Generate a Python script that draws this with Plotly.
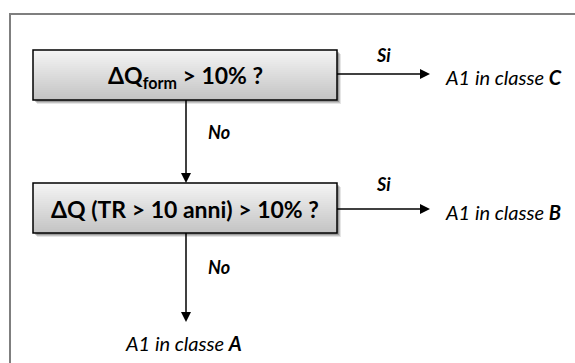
import plotly.graph_objects as go

# ---- diagram content ----
questions = ["ΔQ<sub>form</sub> > 10% ?", "ΔQ (TR > 10 anni) > 10% ?"]
yes_label = "Si"
no_label = "No"
outcomes_yes = ["A1 in classe <b>C</b>", "A1 in classe <b>B</b>"]
outcome_no = "A1 in classe <b>A</b>"

# ---- layout geometry (pixels) ----
W, H = 575, 363
box_x0, box_x1 = 33, 337
box_tops = [50, 183]
box_h = 50
arrow_ys = [74, 209]
si_ys = [55, 184]
no_ys = [132, 267]
cx = 186
arrow_end_x = 430
final_tip_y = 322
HEAD_L, HEAD_W = 10, 5

FONT = "Lato, 'Open Sans', sans-serif"

fig = go.Figure()
shapes = []
annotations = []

# outer frame
shapes.append(dict(type="rect", x0=10, y0=14, x1=W + 20, y1=H + 20,
                   line=dict(color="#7f7f7f", width=2), fillcolor="white", layer="below"))


def lerp(c0, c1, t):
    return "rgb(%d,%d,%d)" % tuple(round(a + (b - a) * t) for a, b in zip(c0, c1))


def arrow(x0, y0, x1, y1):
    """Line with filled triangular head ending at (x1, y1); horizontal or vertical."""
    if y0 == y1:
        shapes.append(dict(type="line", x0=x0, y0=y0, x1=x1 - HEAD_L + 1, y1=y1,
                           line=dict(color="black", width=1.5)))
        path = "M %g %g L %g %g L %g %g Z" % (x1, y1, x1 - HEAD_L, y1 - HEAD_W, x1 - HEAD_L, y1 + HEAD_W)
    else:
        shapes.append(dict(type="line", x0=x0, y0=y0, x1=x1, y1=y1 - HEAD_L + 1,
                           line=dict(color="black", width=1.5)))
        path = "M %g %g L %g %g L %g %g Z" % (x1, y1, x1 - HEAD_W, y1 - HEAD_L, x1 + HEAD_W, y1 - HEAD_L)
    shapes.append(dict(type="path", path=path, fillcolor="black", line=dict(width=0)))


top_c = (244, 244, 244)
bot_c = (196, 196, 196)
nstrip = 25
for i, q in enumerate(questions):
    y0 = box_tops[i]
    y1 = y0 + box_h
    # soft shadow
    for k, op in [(4, 0.10), (3, 0.15), (2, 0.2)]:
        shapes.append(dict(type="rect", x0=box_x0 + k, y0=y0 + k, x1=box_x1 + k, y1=y1 + k,
                           line=dict(width=0), fillcolor="rgba(0,0,0,%g)" % op))
    # gradient fill
    for s in range(nstrip):
        sy0 = y0 + box_h * s / nstrip
        sy1 = y0 + box_h * (s + 1) / nstrip + 0.5
        shapes.append(dict(type="rect", x0=box_x0, y0=sy0, x1=box_x1, y1=min(sy1, y1),
                           line=dict(width=0), fillcolor=lerp(top_c, bot_c, s / (nstrip - 1))))
    shapes.append(dict(type="rect", x0=box_x0, y0=y0, x1=box_x1, y1=y1,
                       line=dict(color="black", width=1.5), fillcolor="rgba(0,0,0,0)"))
    annotations.append(dict(x=(box_x0 + box_x1) / 2, y=(y0 + y1) / 2 + 1, text="<b>%s</b>" % q,
                            showarrow=False, font=dict(family=FONT, size=23, color="black"),
                            xanchor="center", yanchor="middle"))
    # yes arrow
    ym = arrow_ys[i]
    arrow(box_x1, ym, arrow_end_x, ym)
    annotations.append(dict(x=383, y=si_ys[i], text="<b><i>%s</i></b>" % yes_label, showarrow=False,
                            font=dict(family=FONT, size=18, color="black"),
                            xanchor="center", yanchor="middle"))
    annotations.append(dict(x=443, y=ym + 3, text="<i>%s</i>" % outcomes_yes[i], showarrow=False,
                            font=dict(family=FONT, size=20, color="black"),
                            xanchor="left", yanchor="middle"))
    # no arrow
    ny0 = y1
    ny1 = box_tops[i + 1] if i + 1 < len(box_tops) else final_tip_y
    arrow(cx, ny0, cx, ny1)
    annotations.append(dict(x=206, y=no_ys[i], text="<b><i>%s</i></b>" % no_label, showarrow=False,
                            font=dict(family=FONT, size=18, color="black"),
                            xanchor="left", yanchor="middle"))

annotations.append(dict(x=cx - 3, y=343, text="<i>%s</i>" % outcome_no, showarrow=False,
                        font=dict(family=FONT, size=20, color="black"),
                        xanchor="center", yanchor="middle"))

fig.update_layout(
    width=W, height=H, margin=dict(l=0, r=0, t=0, b=0),
    paper_bgcolor="white", plot_bgcolor="white",
    xaxis=dict(range=[0, W], visible=False, fixedrange=True),
    yaxis=dict(range=[H, 0], visible=False, fixedrange=True),
    shapes=shapes, annotations=annotations, showlegend=False,
)
fig.write_html("out.html", config={"displayModeBar": False},
               post_script="document.body.style.margin='0';document.body.style.overflow='hidden';")
